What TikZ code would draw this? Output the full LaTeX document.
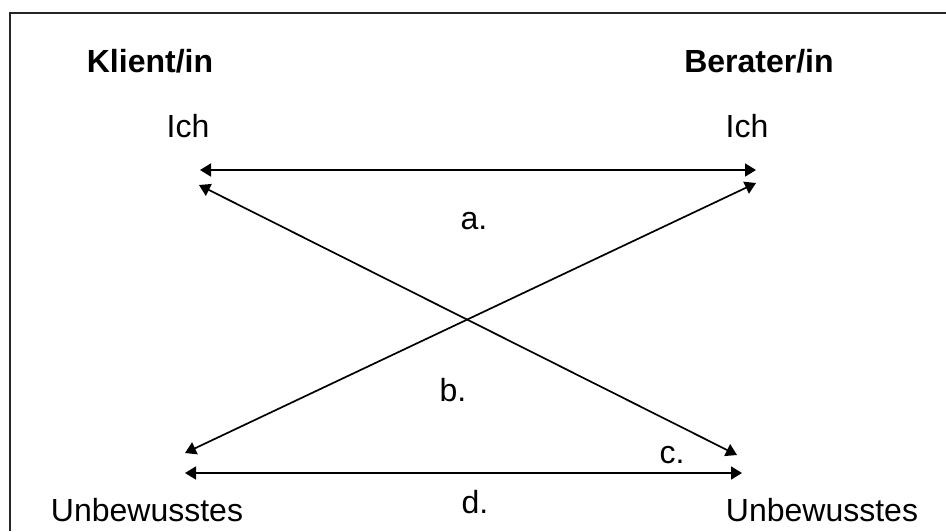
\documentclass[tikz,border=0pt]{standalone}
\usepackage{fontspec}
\setmainfont{Liberation Sans}
\usetikzlibrary{arrows.meta}
\begin{document}
\begin{tikzpicture}[x=0.5pt,y=-0.5pt,line width=0.85pt,
    txt/.style={anchor=base,inner sep=0pt,font=\fontsize{16pt}{19pt}\selectfont},
    head/.style={txt,font=\fontsize{16pt}{19pt}\selectfont\bfseries},
    link/.style={{Triangle[length=5.5pt,width=6.5pt]}-{Triangle[length=5.5pt,width=6.5pt]}} ]
    \useasboundingbox (0,0) rectangle (946,531);
    \draw [line width=1pt,black!85] (10,531) -- (10,13) -- (946,13);
    \node at (150,72) [head] (klient) {Klient/in};
    \node at (759,72) [head] (berater) {Berater/in};
    \node at (188,137) [txt] (ichK) {Ich};
    \node at (747,137) [txt] (ichB) {Ich};
    \node at (147,521) [txt] (ubwK) {Unbewusstes};
    \node at (822,521) [txt] (ubwB) {Unbewusstes};
    \coordinate (a1) at (200,170);
    \coordinate (a2) at (756,170);
    \coordinate (c1) at (199,185);
    \coordinate (c2) at (737,455);
    \coordinate (b1) at (756,183);
    \coordinate (b2) at (185,453);
    \coordinate (d1) at (185,473);
    \coordinate (d2) at (742,473);
    \draw [link] (a1) to (a2);
    \draw [link] (c1) to (c2);
    \draw [link] (b1) to (b2);
    \draw [link] (d1) to (d2);
    \node at (474,229) [txt] (la) {a.};
    \node at (453,401) [txt] (lb) {b.};
    \node at (672,463) [txt] (lc) {c.};
    \node at (475,513) [txt] (ld) {d.};
\end{tikzpicture}
\end{document}
